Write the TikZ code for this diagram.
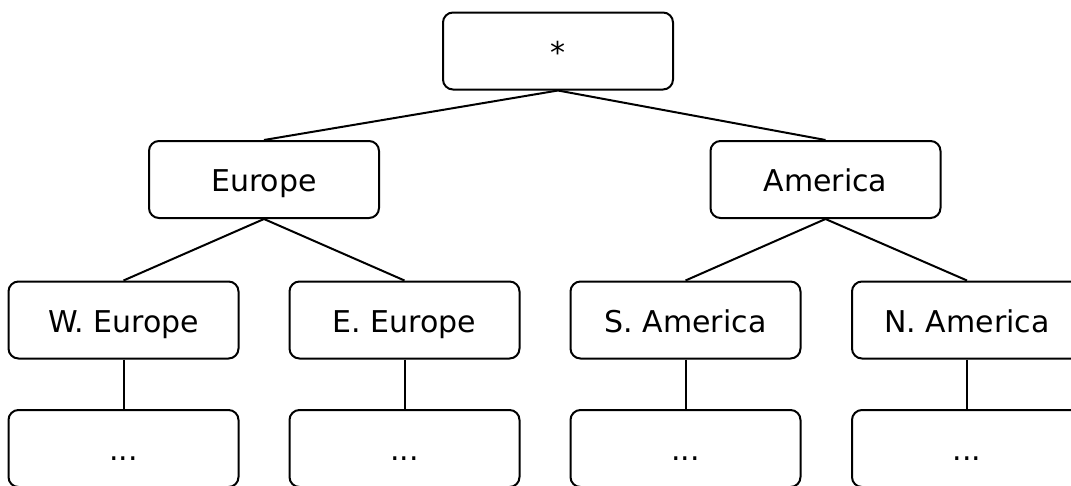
\documentclass[tikz,border=0pt]{standalone}
\usepackage{fontspec}
\setmainfont{DejaVu Sans}
\begin{document}
\begin{tikzpicture}[x=1pt,y=-1pt,
  box/.style={draw=black, line width=2pt, rounded corners=10pt, fill=white,
    minimum width=230pt, minimum height=77pt, inner sep=0pt,
    text height=24pt, text depth=0pt,
    font=\fontsize{30}{34}\selectfont},
  link/.style={draw=black, line width=2pt}]
\useasboundingbox (0,0) rectangle (1071,485);
\clip (0,0) rectangle (1071,485);
\fill[white] (0,0) rectangle (1071,485);
\node[box] (root) at (558,51) {*};
\node[box] (eu) at (264,179.5) {Europe};
\node[box] (am) at (825.5,179.5) {America};
\node[box] (weu) at (123.5,320) {W. Europe};
\node[box] (eeu) at (404.5,320) {E. Europe};
\node[box] (sam) at (685.5,320) {S. America};
\node[box] (nam) at (967,320) {N. America};
\node[box] (d1) at (123.5,448.5) {...};
\node[box] (d2) at (404.5,448.5) {...};
\node[box] (d3) at (685.5,448.5) {...};
\node[box] (d4) at (967,448.5) {...};
\draw[link] (root.south) -- (eu.north);
\draw[link] (root.south) -- (am.north);
\draw[link] (eu.south) -- (weu.north);
\draw[link] (eu.south) -- (eeu.north);
\draw[link] (am.south) -- (sam.north);
\draw[link] (am.south) -- (nam.north);
\draw[link] (weu.south) -- (d1.north);
\draw[link] (eeu.south) -- (d2.north);
\draw[link] (sam.south) -- (d3.north);
\draw[link] (nam.south) -- (d4.north);
\end{tikzpicture}
\end{document}
